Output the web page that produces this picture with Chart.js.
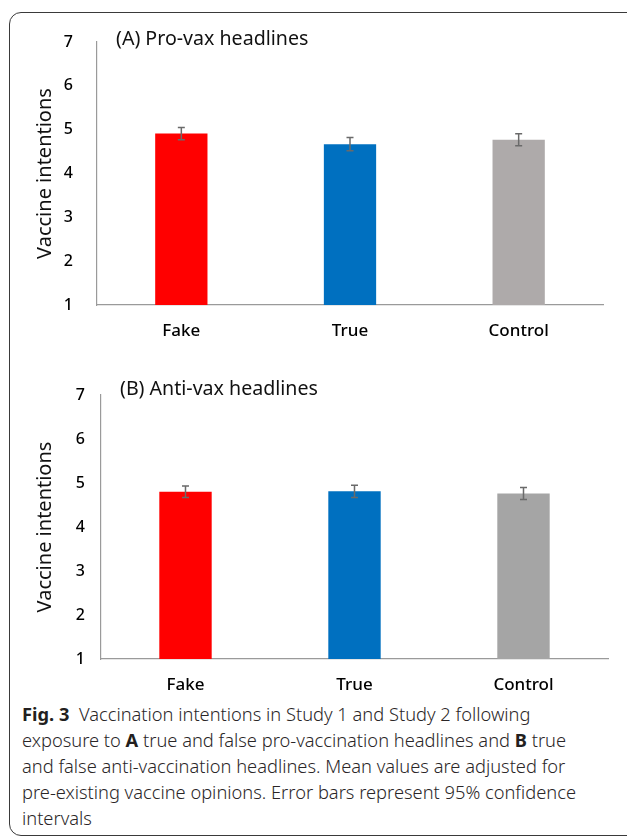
<!DOCTYPE html>
<html lang="en">

<head>
    <meta charset="UTF-8">
    <meta name="viewport" content="width=device-width, initial-scale=1.0">
    <title>Fig. 3</title>
    <style>
        body {
            margin: 0;
            background: #fff;
            font-family: "Noto Sans", "Open Sans", sans-serif;
        }

        #page {
            position: relative;
            width: 627px;
            height: 837px;
            overflow: hidden;
        }

        #frame {
            position: absolute;
            left: 9px;
            top: 12px;
            width: 640px;
            height: 822px;
            border: 1.5px solid #3a3a3a;
            border-radius: 12px 0 0 12px;
        }

        .box {
            position: absolute;
            left: 0;
            width: 627px;
        }

        .panel-title {
            position: absolute;
            font-size: 19.6px;
            line-height: 24px;
            color: #111;
        }

        #caption {
            position: absolute;
            left: 22px;
            top: 701px;
            font-size: 18.3px;
            line-height: 26px;
            font-weight: 300;
            color: #2a2627;
            white-space: nowrap;
        }

        #caption b {
            font-weight: 700;
            color: #231f20;
        }
    </style>
</head>

<body>
    <div id="page">
        <div id="frame"></div>

        <div class="box" style="top:0;height:360px"><canvas id="chartA"></canvas></div>
        <div class="box" style="top:360px;height:340px"><canvas id="chartB"></canvas></div>

        <div class="panel-title" style="left:116px;top:26px">(A) Pro-vax headlines</div>
        <div class="panel-title" style="left:120px;top:376px">(B) Anti-vax headlines</div>

        <div id="caption">
            <b>Fig. 3</b>&nbsp; Vaccination intentions in Study 1 and Study 2 following<br>
            exposure to <b>A</b> true and false pro-vaccination headlines and <b>B</b> true<br>
            and false anti-vaccination headlines. Mean values are adjusted for<br>
            pre-existing vaccine opinions. Error bars represent 95% confidence<br>
            intervals
        </div>
    </div>

    <script src="https://cdn.jsdelivr.net/npm/chart.js"></script>
    <script>
        // data
        const categories = ['Fake', 'True', 'Control'];

        const proVaxMeans = [4.91, 4.67, 4.77];
        const proVaxErr = [0.14, 0.15, 0.135];

        const antiVaxMeans = [4.80, 4.81, 4.76];
        const antiVaxErr = [0.13, 0.14, 0.135];

        const yMin = 1;
        const yMax = 7;
        const yStep = 1;

        const proVaxColors = ['#FF0000', '#0070C0', '#AEAAAA'];
        const antiVaxColors = ['#FF0000', '#0070C0', '#A5A5A5'];

        // error bars, positioned with the chart's own y scale
        const errorBars = {
            id: 'errorBars',
            afterDatasetsDraw(chart, args, opts) {
                const ctx = chart.ctx;
                const yScale = chart.scales.y;
                const meta = chart.getDatasetMeta(0);
                const values = chart.data.datasets[0].data;
                ctx.save();
                ctx.strokeStyle = '#6a6a6a';
                ctx.lineWidth = 1.5;
                meta.data.forEach((bar, i) => {
                    const e = opts.errors[i];
                    const yTop = yScale.getPixelForValue(values[i] + e);
                    const yBot = yScale.getPixelForValue(values[i] - e);
                    ctx.beginPath();
                    ctx.moveTo(bar.x, yTop);
                    ctx.lineTo(bar.x, yBot);
                    ctx.moveTo(bar.x - 3.5, yTop);
                    ctx.lineTo(bar.x + 3.5, yTop);
                    ctx.moveTo(bar.x - 3.5, yBot);
                    ctx.lineTo(bar.x + 3.5, yBot);
                    ctx.stroke();
                });
                ctx.restore();
            }
        };

        function makeChart(id, means, errs, colors, pad, yWidth, xHeight, tickPad) {
            return new Chart(document.getElementById(id), {
                type: 'bar',
                data: {
                    labels: categories,
                    datasets: [{
                        data: means,
                        backgroundColor: colors,
                        borderWidth: 0,
                        barPercentage: 0.31,
                        categoryPercentage: 1
                    }]
                },
                plugins: [errorBars],
                options: {
                    responsive: true,
                    maintainAspectRatio: false,
                    animation: false,
                    layout: { padding: pad },
                    plugins: {
                        legend: { display: false },
                        tooltip: { enabled: false },
                        errorBars: { errors: errs }
                    },
                    scales: {
                        x: {
                            grid: { display: false, drawTicks: false },
                            border: { display: true, color: '#9a9a9a', width: 1.2 },
                            ticks: {
                                color: '#000',
                                padding: 16,
                                font: { family: 'Noto Sans', size: 17, weight: 500 }
                            },
                            afterFit(scale) { scale.height = xHeight; }
                        },
                        y: {
                            min: yMin,
                            max: yMax,
                            grid: { display: false, drawTicks: false },
                            border: { display: true, color: '#9a9a9a', width: 1.2 },
                            ticks: {
                                stepSize: yStep,
                                color: '#000',
                                padding: tickPad,
                                font: { family: 'Noto Sans', size: 16, weight: 500 }
                            },
                            title: {
                                display: true,
                                text: 'Vaccine intentions',
                                color: '#111',
                                padding: { top: 33 },
                                font: { family: 'Noto Sans', size: 20 }
                            },
                            afterFit(scale) { scale.width = yWidth; }
                        }
                    }
                }
            });
        }

        makeChart('chartA', proVaxMeans, proVaxErr, proVaxColors,
            { top: 42, right: 24, bottom: 0, left: 0 }, 97, 55, 24);
        makeChart('chartB', antiVaxMeans, antiVaxErr, antiVaxColors,
            { top: 35, right: 19, bottom: 0, left: 0 }, 101, 41, 16);
    </script>
</body>

</html>
